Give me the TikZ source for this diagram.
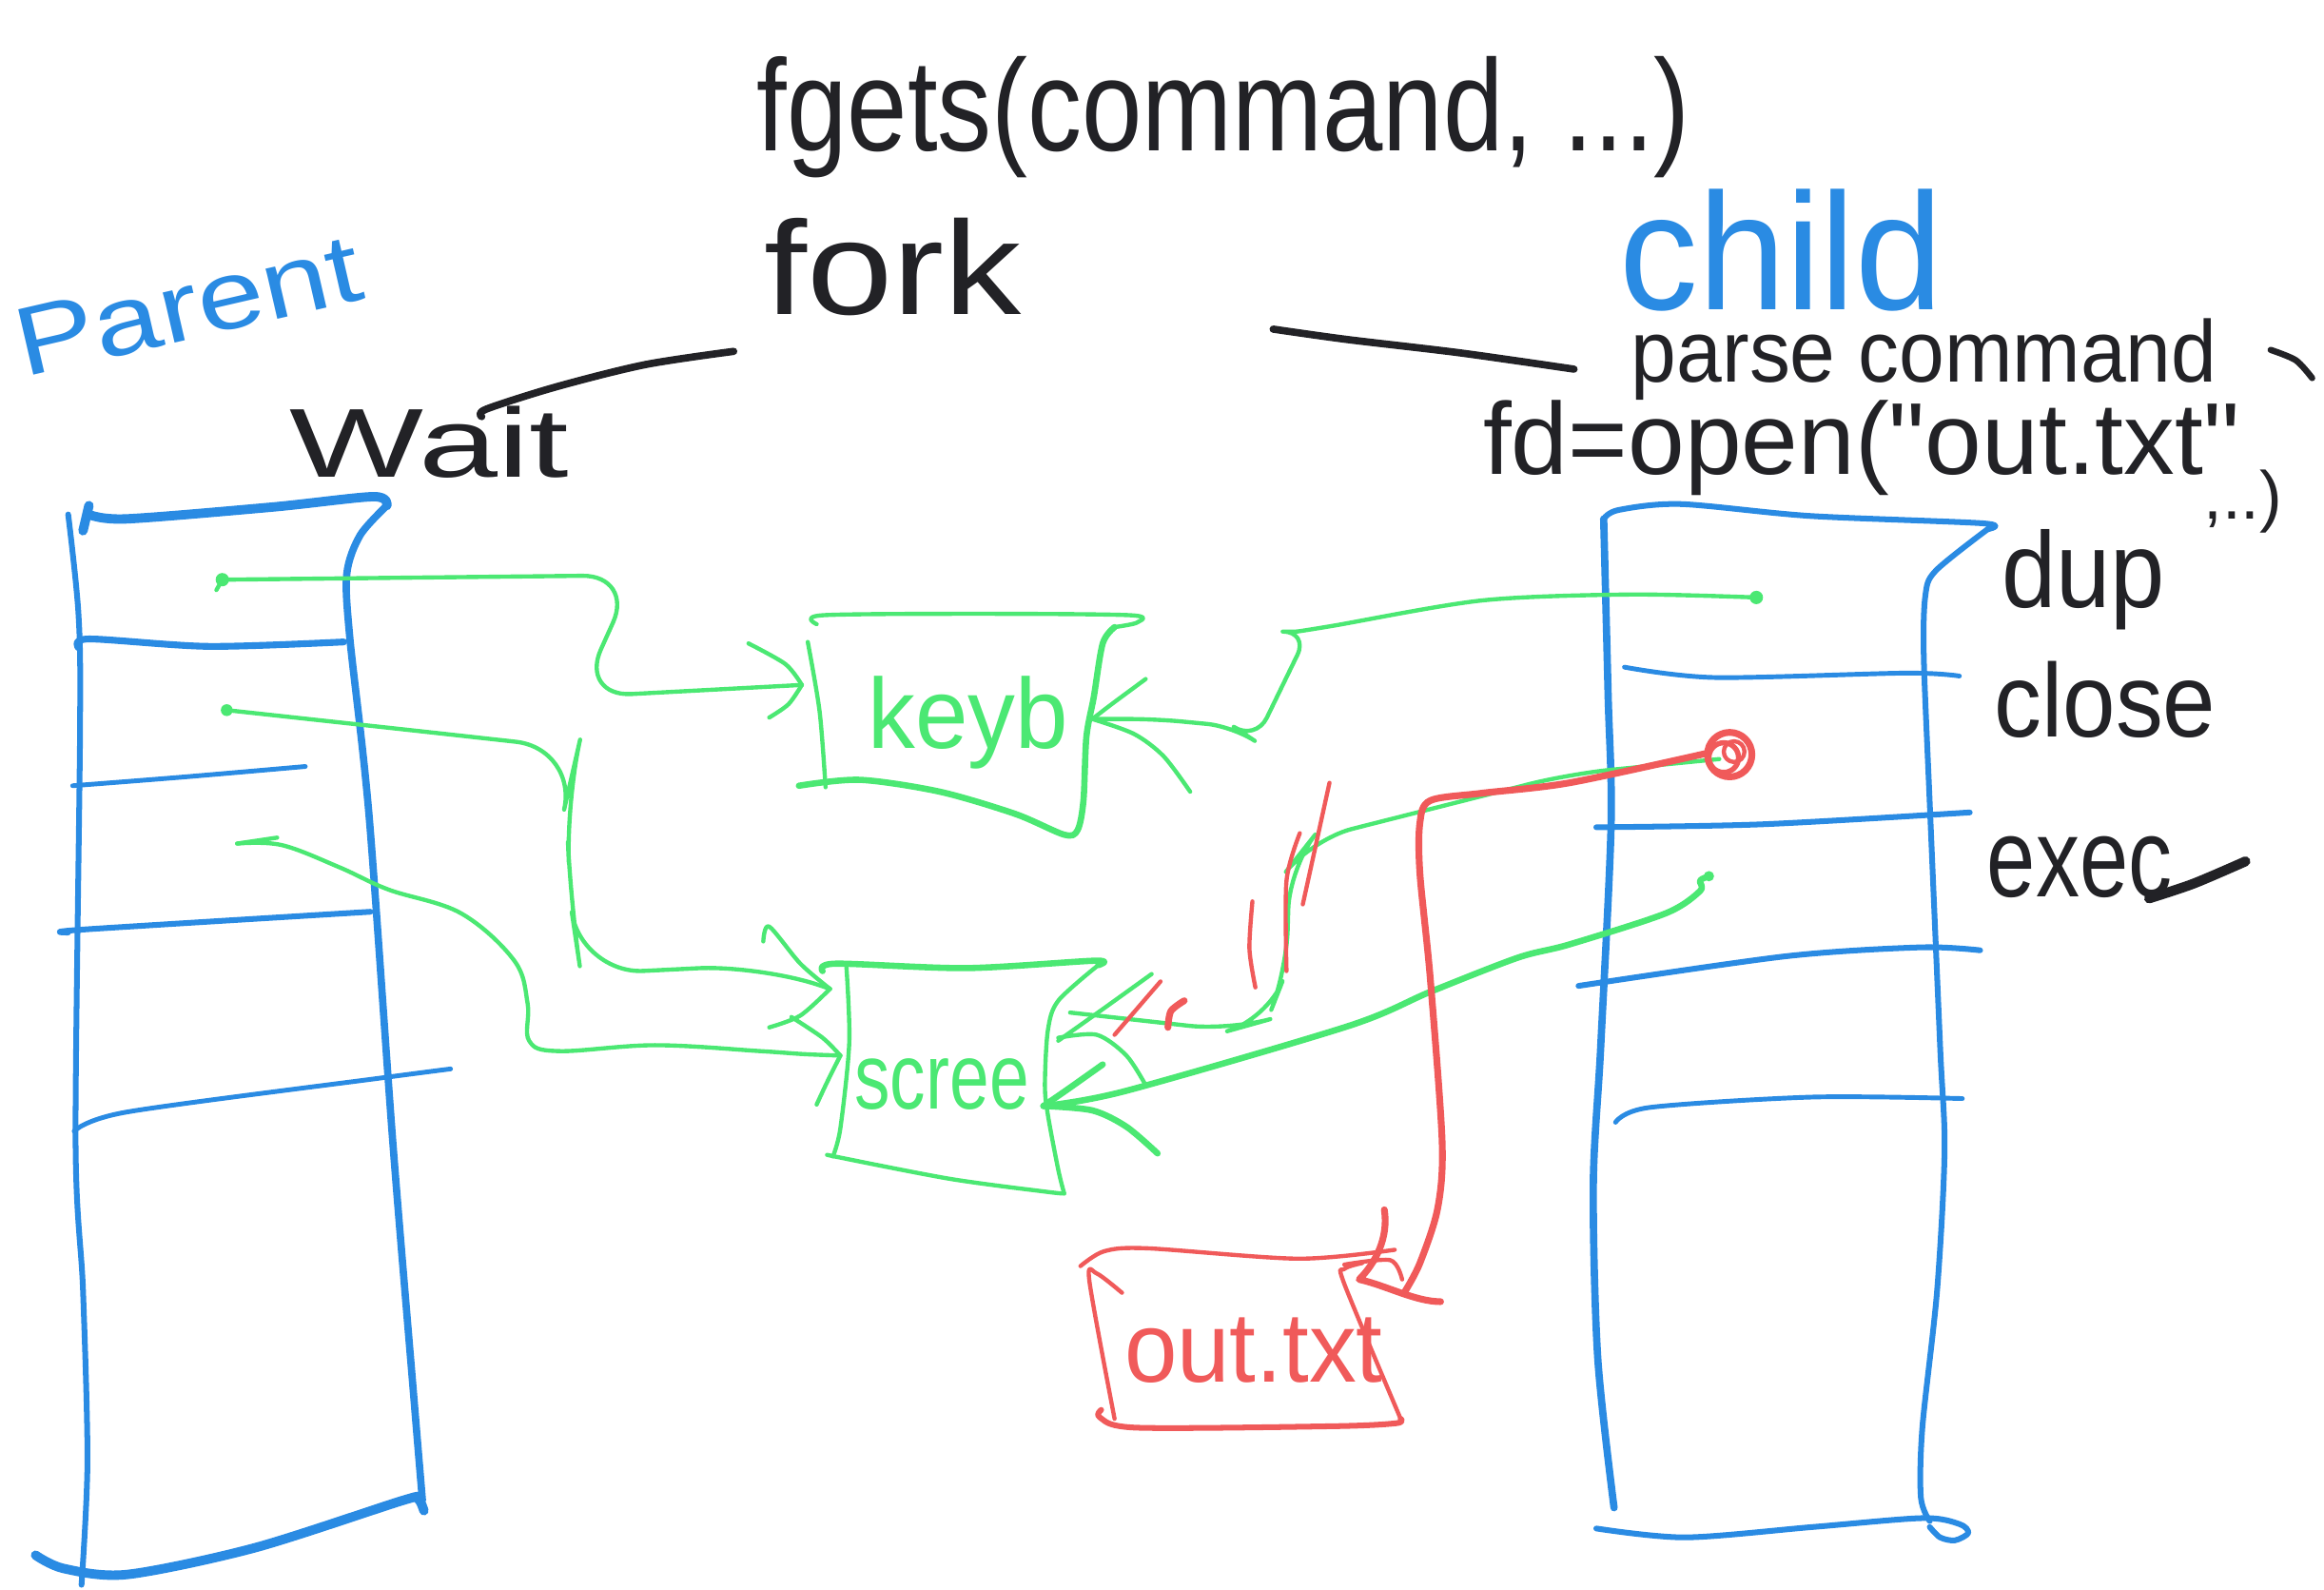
\documentclass[tikz,border=0pt]{standalone}
\usepackage{fontspec}
\usepackage{graphicx}
\setmainfont{Liberation Sans}
\newfontfamily\handfont{Liberation Sans}
\definecolor{inkblue}{HTML}{2A8BE3}
\definecolor{inkgreen}{HTML}{4BE873}
\definecolor{inkred}{HTML}{F05A5A}
\definecolor{inkblack}{HTML}{222226}
% hand-lettered label: size, horizontal stretch, vertical stretch, text
\newcommand\handtxt[4]{\handfont\fontsize{#1}{#1}\selectfont\scalebox{#2}[#3]{#4}}

\begin{document}
\begin{tikzpicture}[x=0.1mm, y=-0.1mm, line cap=round, line join=round,
  col/.style={inkblue, line width=1.1pt},
  colthick/.style={inkblue, line width=1.8pt},
  slot/.style={inkblue, line width=0.9pt},
  wire/.style={inkgreen, line width=0.8pt},
  wirethick/.style={inkgreen, line width=1.2pt},
  redwire/.style={inkred, line width=1.3pt},
  redtick/.style={inkred, line width=0.8pt},
  ink/.style={inkblack, line width=1.2pt},
  lbl/.style={inner sep=0pt, anchor=base west, text=inkblack},
]
\useasboundingbox (0,0) rectangle (1568,1072);

% ---------------- headings ----------------
\node[lbl] (fgets) at (510,102) {\handtxt{20pt}{1.04}{1.25}{fgets(command, ...)}};
\node[lbl] (fork) at (515,212) {\handtxt{22.8pt}{1.3}{1.12}{fork}};
\node[inner sep=0pt, anchor=base, rotate=13, text=inkblue] (parent) at (132,228) {\handtxt{17pt}{1.35}{1.1}{Parent}};
\node[lbl] (wait) at (195,322) {\handtxt{18.8pt}{1.45}{1}{Wait}};
\node[lbl, text=inkblue] (child) at (1092,209) {\handtxt{28.5pt}{1.06}{1.12}{child}};
\node[lbl] (parse) at (1100,258) {\handtxt{16pt}{0.98}{1.05}{parse command}};
\node[lbl] (open) at (1000,320) {\handtxt{19.6pt}{1.0}{1.0}{fd=open("out.txt"}};
\node[lbl] (rest) at (1486,350) {\handtxt{13pt}{1}{1}{,..)}};
\draw[ink] plot[smooth] coordinates {(1532,236) (1549,243) (1560,255)};

% fork branches
\draw[ink, line width=1.4pt] plot[smooth] coordinates {(325,281) (328,276) (375,261) (435,246) (495,237)};
\draw[ink, line width=1.4pt] plot[smooth] coordinates {(859,222) (909,229) (985,238) (1062,249)};

% ---------------- parent fd table ----------------
\draw[colthick] (60,341) -- (56,358);
\draw[col] plot[smooth] coordinates {(46,347) (53,415) (54,493) (51,770) (56,870) (59,986) (55,1069)};
\draw[colthick] plot[smooth] coordinates {(60,347) (85,350) (184,342) (252,335) (261,341)};
\draw[col, line width=1.4pt] plot[smooth] coordinates {(261,341) (243,361) (234,387) (236,430) (249,550) (265,770) (279,940) (285,1012)};
\draw[colthick] plot[smooth] coordinates {(24,1049) (43,1058) (86,1062) (172,1044) (272,1012) (282,1011) (286,1019)};
\draw[col, line width=1.3pt] plot[smooth] coordinates {(53,437) (60,431) (141,436) (232,433)};
\draw[slot] plot[smooth] coordinates {(49,530) (125,524) (206,517)};
\draw[col] plot[smooth] coordinates {(46,629) (56,627) (250,615)};
\draw[slot] plot[smooth] coordinates {(50,763) (86,750) (258,727) (304,721)};

% ---------------- child fd table ----------------
\draw[col] plot[smooth] coordinates {(1082,350) (1092,344) (1134,340) (1221,348) (1338,353) (1341,357)};
\draw[col] plot[smooth] coordinates {(1341,357) (1306,385) (1299,402) (1298,444) (1302,542) (1309,706) (1312,776) (1307,870) (1297,963) (1296,1010) (1302,1026)};
\draw[col, line width=1.4pt] plot[smooth] coordinates {(1082,350) (1085,469) (1087,556) (1080,706) (1075,799) (1078,916) (1089,1017)};
\draw[col] plot[smooth] coordinates {(1077,1031) (1137,1037) (1223,1030) (1297,1024) (1322,1028) (1328,1034) (1319,1039) (1309,1037) (1302,1030)};
\draw[slot] plot[smooth] coordinates {(1096,450) (1157,457) (1286,454) (1322,456)};
\draw[col] plot[smooth] coordinates {(1077,558) (1189,556) (1329,548)};
\draw[col] plot[smooth] coordinates {(1065,665) (1205,645) (1296,639) (1336,641)};
\draw[slot] plot[smooth] coordinates {(1090,757) (1113,747) (1223,740) (1324,741)};

\node[lbl] (dup) at (1350,410) {\handtxt{18.8pt}{1}{1.1}{dup}};
\node[lbl] (close) at (1345,497) {\handtxt{18.2pt}{1}{1.1}{close}};
\node[lbl] (exec) at (1340,605) {\handtxt{20.5pt}{0.82}{1.05}{exec}};
\draw[ink, line width=1.9pt] plot[smooth] coordinates {(1450,606) (1480,596) (1515,581)};

% ---------------- open file objects ----------------
\draw[wire] plot[smooth] coordinates {(551,421) (555,415) (660,414) (763,415) (767,420) (752,423)};
\draw[wirethick] plot[smooth] coordinates {(752,423) (744,434) (738,470) (733,497) (731,540) (727,560) (718,563) (685,549) (634,534) (580,526) (539,530)};
\draw[wire] plot[smooth] coordinates {(545,433) (553,480) (557,531)};
\node[lbl, text=inkgreen] (keytxt) at (585,505) {\handtxt{18.2pt}{1}{1.05}{keyb}};

\draw[wirethick] plot[smooth] coordinates {(555,655) (564,650) (652,653) (739,648) (741,651)};
\draw[wire] plot[smooth] coordinates {(741,651) (714,675) (707,695) (705,732) (707,752) (714,789) (718,805)};
\draw[wire] plot[smooth] coordinates {(718,805) (707,804) (640,795) (558,779)};
\draw[wire] plot[smooth] coordinates {(571,651) (573,703) (567,761) (562,780)};
\node[lbl, text=inkgreen] (screetxt) at (576,748) {\handtxt{17.1pt}{0.8}{1.05}{scree}};

\draw[redtick] plot[smooth] coordinates {(729,854) (745,844) (774,842) (876,849) (941,843)};
\draw[redtick] plot[smooth] coordinates {(757,872) (740,859) (735,864) (752,957)};
\draw[redwire, line width=1.1pt] plot[smooth] coordinates {(743,951) (742,956) (767,963) (900,962) (942,960) (945,957)};
\draw[redtick] plot[smooth] coordinates {(945,957) (907,866) (907,856) (919,852)};
\draw[redtick] plot[smooth] coordinates {(907,853) (938,850) (946,863)};
\node[lbl, text=inkred] (outtxt) at (758,932) {\handtxt{18.2pt}{1}{1.05}{out.txt}};

% ---------------- descriptor links ----------------
\coordinate (pA) at (150,391);
\coordinate (pB) at (153,479);
\coordinate (pC) at (187,565);
\coordinate (cA) at (1185,403);
\coordinate (cB) at (1160,512);
\coordinate (cC) at (1153,591);
\coordinate (kin1) at (541,462);
\coordinate (kin2) at (737,485);
\coordinate (sin1) at (560,667);
\coordinate (sin2) at (567,712);
\coordinate (sin3) at (722,683);
\coordinate (sin4) at (704,746);
\coordinate (oin) at (948,871);

% parent stdin -> keyboard
\fill[inkgreen] (pA) circle (4.5);
\draw[wire] (pA) -- (146,398);
\draw[wire, rounded corners=10] (pA) -- (428,388) -- (391,470) -- (kin1);
\draw[wire] plot[smooth] coordinates {(505,434) (530,448) (kin1)};
\draw[wire] plot[smooth] coordinates {(kin1) (532,475) (519,484)};

% parent stdout -> screen
\fill[inkgreen] (pB) circle (4);
\draw[wire, rounded corners=12] (pB) -- (300,495) -- (390,505) -- (382,540) -- (385,610) -- (392,657) -- (513,651) -- (sin1);
\draw[wire] plot[smooth] coordinates {(515,635) (519,625) (540,650) (sin1)};
\draw[wire] plot[smooth] coordinates {(sin1) (540,685) (519,693)};

% parent stderr -> screen
\draw[wire] (pC) -- (160,569);
\draw[wire] plot[smooth, tension=0.6] coordinates {(160,569) (190,570) (229,585) (262,600) (311,616) (347,648) (356,677) (357,702) (377,709) (442,705) (513,709) (542,711) (sin2)};
\draw[wire] plot[smooth] coordinates {(534,686) (555,700) (sin2)};
\draw[wire] plot[smooth] coordinates {(sin2) (558,730) (551,745)};

% child stdin -> keyboard
\fill[inkgreen] (cA) circle (4.5);
\draw[wire] plot[smooth] coordinates {(cA) (1100,401) (1000,405) (900,422) (875,426)};
\draw[wire, rounded corners=5] (875,426) -- (883,426) -- (847,500) -- (832,490) -- (780,485) -- (kin2);
\draw[wire] plot[smooth] coordinates {(773,458) (750,475) (kin2)};
\draw[wire] plot[smooth] coordinates {(kin2) (765,495) (785,510) (803,534)};

% child stdout -> screen
\draw[wire, rounded corners=8] (cB) -- (1059,522) -- (885,566) -- (870,585) -- (868,655) -- (855,688) -- (830,695) -- (sin3);
\draw[wire] plot[smooth] coordinates {(777,657) (745,680) (714,702)};
\draw[wire] plot[smooth] coordinates {(714,700) (740,698) (760,712) (773,732)};

% child stderr -> screen
\fill[inkgreen] (cC) circle (3.5);
\draw[wirethick] plot[smooth] coordinates {(cC) (1147,594) (1147,601) (1124,616) (1059,637) (1024,646) (965,669) (910,692) (759,736) (sin4)};
\draw[wirethick] plot[smooth] coordinates {(744,718) (720,735) (sin4)};
\draw[wirethick] plot[smooth] coordinates {(sin4) (737,749) (760,760) (781,778)};

% struck-out links
\draw[redtick] plot[smooth] coordinates {(845,608) (843,640) (847,666)};
\draw[redtick] plot[smooth] coordinates {(877,562) (868,594) (868,655)};
\draw[redtick] (897,528) -- (879,610);
\draw[redtick] (783,662) -- (752,698);
\draw[redwire] plot[smooth] coordinates {(799,675) (790,682) (788,693)};

% new descriptor -> out.txt
\draw[redwire] (1167,509) circle (15);
\draw[redwire, line width=1pt] (1163,511) circle (10);
\draw[redwire, line width=0.8pt] (1170,507) circle (7);
\draw[redwire] plot[smooth, tension=0.5] coordinates {(1152,508) (1059,528) (1000,535) (965,540) (958,555) (958,589) (965,660) (973,770) (970,815) (958,852) (oin)};
\draw[redwire] (934,816) .. controls (937,835) and (928,852) .. (917,863) .. controls (935,867) and (955,878) .. (972,878);
\end{tikzpicture}
\end{document}
